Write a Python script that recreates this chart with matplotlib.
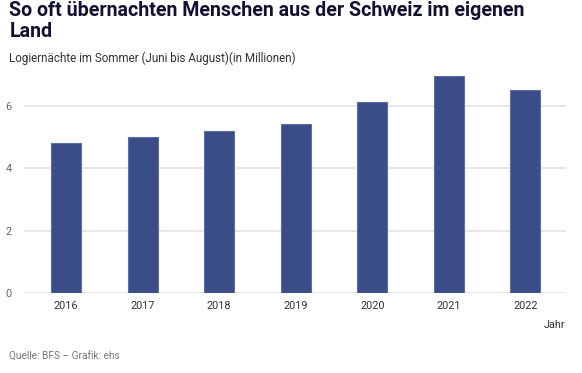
import numpy as np
import matplotlib.pyplot as plt

# Logiernächte im Sommer (Juni bis August), in Millionen
years = ["2016", "2017", "2018", "2019", "2020", "2021", "2022"]
nights = [4.81, 5.00, 5.18, 5.43, 6.11, 6.95, 6.50]
yticks = [0, 2, 4, 6]

plt.rcParams["font.family"] = ["Roboto", "DejaVu Sans"]

fig = plt.figure(figsize=(5.82, 3.73), dpi=100)
ax = fig.add_axes([0.0412, 0.2145, 0.9313, 0.602])

x = np.arange(len(years))
ax.bar(x, nights, width=0.39, color="#3a4d88", edgecolor="#5d6fa3",
       linewidth=0.8, zorder=3)

ax.set_xlim(-0.55, 6.53)
ax.set_ylim(0, 7.2)
ax.set_yticks(yticks)
ax.set_xticks(x)
ax.set_xticklabels(years)
ax.grid(True, axis="y", color="#e3e3e3", linewidth=1.2, zorder=0)
for s in ax.spines.values():
    s.set_visible(False)
ax.tick_params(axis="both", length=0, labelsize=7.8, colors="#333333")
ax.tick_params(axis="y", pad=9, labelcolor="#666666")
ax.tick_params(axis="x", pad=6)

fig.text(0.016, 0.997, "So oft übernachten Menschen aus der Schweiz im eigenen\nLand",
         ha="left", va="top", fontsize=14.1, fontweight="bold",
         color="#111133", linespacing=1.12)
fig.text(0.016, 0.845, "Logiernächte im Sommer (Juni bis August)(in Millionen)",
         ha="left", va="center", fontsize=8.4, color="#333333")
fig.text(0.972, 0.128, "Jahr", ha="right", va="center", fontsize=7.8, color="#333333")
fig.text(0.016, 0.043, "Quelle: BFS – Grafik: ehs", ha="left", va="center",
         fontsize=7.3, color="#777777")

fig.savefig("out.png", dpi=100)
